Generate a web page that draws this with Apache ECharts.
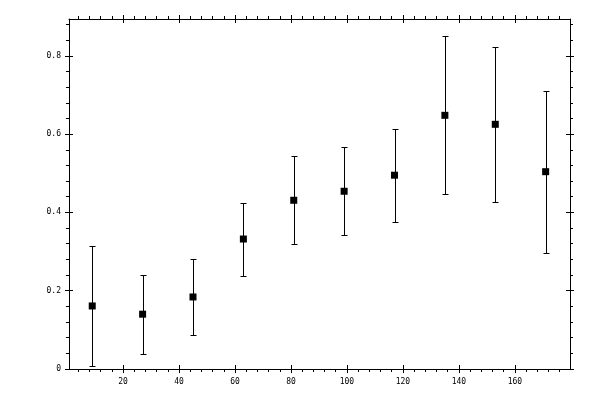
<!DOCTYPE html>
<html>
<head>
<meta charset="utf-8">
<script src="https://cdn.jsdelivr.net/npm/echarts@6/dist/echarts.min.js"></script>
<style>
  html, body { margin: 0; padding: 0; background: #fff; }
  #chart { width: 600px; height: 400px; }
</style>
</head>
<body>
<div id="chart"></div>
<script>
const xValues = [9, 27, 45, 63, 81, 99, 117, 135, 153, 171];
const yValues = [0.161, 0.140, 0.184, 0.332, 0.431, 0.454, 0.495, 0.648, 0.625, 0.504];
const yLow = [0.008, 0.038, 0.087, 0.237, 0.319, 0.342, 0.375, 0.447, 0.426, 0.296];
const yHigh = [0.314, 0.240, 0.281, 0.425, 0.543, 0.566, 0.614, 0.850, 0.822, 0.709];

// axis ticks
const xMajor = [20, 40, 60, 80, 100, 120, 140, 160];
const xMinor = [4, 8, 12, 16, 24, 28, 32, 36, 44, 48, 52, 56, 64, 68, 72, 76, 84, 88, 92, 96,
  104, 108, 112, 116, 124, 128, 132, 136, 144, 148, 152, 156, 164, 168, 172, 176];
const yMajor = [0, 0.2, 0.4, 0.6, 0.8];
const yMinor = [0.04, 0.08, 0.12, 0.16, 0.24, 0.28, 0.32, 0.36, 0.44, 0.48, 0.52, 0.56,
  0.64, 0.68, 0.72, 0.76, 0.84, 0.88];

const xMin = 0.7;
const xMax = 179.7;
const yMin = 0;
const yMax = 0.894;

const labelFont = {
  fontFamily: 'DejaVu Sans Mono',
  fontSize: 8,
  color: '#000'
};

function makeAxis(kind, position, withLine, ticks, inside, len, labels) {
  const isX = kind === 'x';
  return {
    type: 'value',
    position: position,
    min: isX ? xMin : yMin,
    max: isX ? xMax : yMax,
    splitLine: { show: false },
    axisLine: { show: withLine, onZero: false, lineStyle: { color: '#000', width: 1 } },
    axisTick: {
      show: true,
      inside: inside,
      length: len,
      customValues: ticks,
      lineStyle: { color: '#000', width: 1 }
    },
    axisLabel: labels
      ? Object.assign({ show: true, customValues: labels, margin: isX ? 9 : 8 }, labelFont)
      : { show: false }
  };
}

const chart = echarts.init(document.getElementById('chart'), null, { renderer: 'canvas' });

chart.setOption({
  animation: false,
  backgroundColor: '#fff',
  grid: { left: 69, right: 30, top: 19, bottom: 31, containLabel: false },
  xAxis: [
    makeAxis('x', 'bottom', true, xMinor, false, 3, xMajor),
    makeAxis('x', 'bottom', false, xMajor, false, 4, null),
    makeAxis('x', 'bottom', false, xMajor, true, 4, null),
    makeAxis('x', 'top', true, xMinor, false, 3, null),
    makeAxis('x', 'top', false, xMajor, false, 4, null),
    makeAxis('x', 'top', false, xMajor, true, 4, null)
  ],
  yAxis: [
    makeAxis('y', 'left', true, yMinor, false, 3, yMajor),
    makeAxis('y', 'left', false, yMajor, false, 4, null),
    makeAxis('y', 'left', false, yMajor, true, 4, null),
    makeAxis('y', 'right', true, yMinor, false, 3, null),
    makeAxis('y', 'right', false, yMajor, false, 4, null),
    makeAxis('y', 'right', false, yMajor, true, 4, null)
  ],
  series: [
    {
      type: 'custom',
      xAxisIndex: 0,
      yAxisIndex: 0,
      data: xValues.map((x, i) => [x, yLow[i], yHigh[i]]),
      renderItem: function (params, api) {
        const lo = api.coord([api.value(0), api.value(1)]);
        const hi = api.coord([api.value(0), api.value(2)]);
        const x = Math.round(lo[0]) + 0.5;
        const y1 = Math.round(lo[1]) + 0.5;
        const y2 = Math.round(hi[1]) + 0.5;
        const cap = 3;
        const style = { stroke: '#000', lineWidth: 1 };
        return {
          type: 'group',
          children: [
            { type: 'line', shape: { x1: x, y1: y1, x2: x, y2: y2 }, style: style },
            { type: 'line', shape: { x1: x - cap, y1: y1, x2: x + cap, y2: y1 }, style: style },
            { type: 'line', shape: { x1: x - cap, y1: y2, x2: x + cap, y2: y2 }, style: style }
          ]
        };
      },
      z: 2
    },
    {
      type: 'scatter',
      xAxisIndex: 0,
      yAxisIndex: 0,
      symbol: 'rect',
      symbolSize: 7,
      itemStyle: { color: '#000', opacity: 1 },
      data: xValues.map((x, i) => [x, yValues[i]]),
      z: 3
    }
  ]
});
</script>
</body>
</html>
